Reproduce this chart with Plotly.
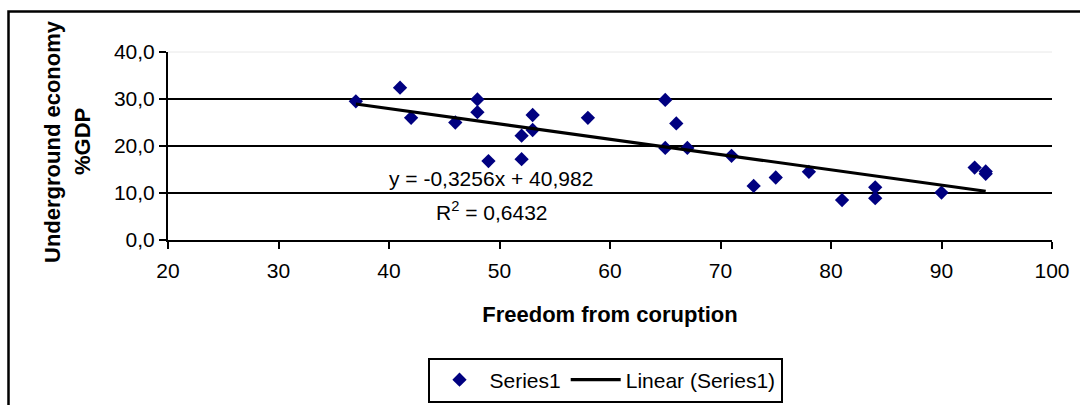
import plotly.graph_objects as go

# ---- data ----
freedom = [37, 41, 42, 46, 48, 48, 49, 52, 52, 53, 53, 58, 65, 65, 66, 67,
           71, 73, 75, 78, 81, 84, 84, 90, 93, 94, 94]
underground = [29.5, 32.4, 26.0, 25.0, 29.9, 27.2, 16.8, 22.2, 17.2, 26.6, 23.4,
               26.0, 29.8, 19.6, 24.8, 19.6, 17.9, 11.5, 13.3, 14.5, 8.5, 11.2,
               8.9, 10.1, 15.4, 14.6, 14.1]
slope = -0.3256
intercept = 40.982
r_squared = 0.6432
x_ticks = [20, 30, 40, 50, 60, 70, 80, 90, 100]
y_ticks = [0, 10, 20, 30, 40]
grid_vals = [10, 20, 30]

FONT = "Arial, Liberation Sans, sans-serif"

W, H = 1080, 405
# plot area in pixels
L, R, T, B = 168, 1052, 52, 240
pw, ph = R - L, B - T

def px_x(p):
    return (p - L) / pw

def px_y(p):
    return (B - p) / ph

x_line = [min(freedom), max(freedom)]
y_line = [slope * v + intercept for v in x_line]

fig = go.Figure()
fig.add_trace(go.Scatter(
    x=freedom, y=underground, mode="markers", name="Series1",
    marker=dict(symbol="diamond", size=11, color="#000080",
                line=dict(width=0)),
    yaxis="y"))
fig.add_trace(go.Scatter(
    x=x_line, y=y_line, mode="lines", name="Linear (Series1)",
    line=dict(color="black", width=3.2), yaxis="y"))
# invisible trace on overlay axis for gridlines
fig.add_trace(go.Scatter(x=[20], y=[0], mode="markers", showlegend=False,
                         marker=dict(opacity=0), yaxis="y2", hoverinfo="skip"))

fig.update_layout(
    width=W, height=H,
    margin=dict(l=L, r=W - R, t=T, b=H - B, pad=0, autoexpand=False),
    paper_bgcolor="white", plot_bgcolor="white",
    separators=",.",
    font=dict(family=FONT, size=21, color="black"),
    showlegend=True,
    legend=dict(orientation="h", x=px_x(605), y=px_y(380),
                xanchor="center", yanchor="middle",
                bordercolor="black", borderwidth=2, bgcolor="white",
                font=dict(family=FONT, size=21, color="black"),
                itemwidth=50, tracegroupgap=0),
    xaxis=dict(range=[20, 100], tickvals=x_ticks, ticktext=[str(v) for v in x_ticks],
               showgrid=False, zeroline=False, showline=True,
               linecolor="black", linewidth=2, ticks="outside", ticklen=7,
               tickwidth=2, tickcolor="black", ticklabelstandoff=4,
               tickfont=dict(family=FONT, size=21, color="black"),
               title=dict(text="<b>Freedom from coruption</b>",
                          font=dict(family=FONT, size=22, color="black"),
                          standoff=25)),
    yaxis=dict(range=[0, 40], tickvals=y_ticks, tickformat=".1f",
               showgrid=False, zeroline=False, showline=True,
               linecolor="black", linewidth=2, ticks="outside", ticklen=7,
               tickwidth=2, tickcolor="black",
               tickfont=dict(family=FONT, size=21, color="black")),
    yaxis2=dict(range=[0, 40], tickvals=grid_vals, overlaying="y",
                showgrid=True, gridcolor="black", gridwidth=2,
                showticklabels=False, zeroline=False, showline=False,
                ticks=""),
)

# faint top border of plot area
fig.add_shape(type="line", xref="paper", yref="paper", x0=0, x1=1, y0=1, y1=1,
              line=dict(color="#e8e8e8", width=1), layer="below")

# outer chart border (extends past bottom/right edges)
fig.add_shape(type="rect", xref="paper", yref="paper",
              x0=px_x(8.5), x1=px_x(1100), y0=px_y(430), y1=px_y(11.5),
              line=dict(color="black", width=2.5), fillcolor="rgba(0,0,0,0)",
              layer="above")

# y-axis title (two lines, rotated)
fig.add_annotation(text="<b>Underground economy</b>", xref="paper", yref="paper",
                   x=px_x(52), y=px_y(142), textangle=-90, showarrow=False,
                   xanchor="center", yanchor="middle",
                   font=dict(family=FONT, size=22, color="black"))
fig.add_annotation(text="<b>%GDP</b>", xref="paper", yref="paper",
                   x=px_x(82), y=px_y(142), textangle=-90, showarrow=False,
                   xanchor="center", yanchor="middle",
                   font=dict(family=FONT, size=22, color="black"))

# trendline equation labels
eq_text = "y = " + f"{slope:.4f}".replace(".", ",") + "x + " + f"{intercept:.3f}".replace(".", ",")
r2_text = "R<sup>2</sup> = " + f"{r_squared:.4f}".replace(".", ",")
fig.add_annotation(text=eq_text, x=49.2, y=13.0, xref="x", yref="y",
                   showarrow=False, xanchor="center", yanchor="middle",
                   font=dict(family=FONT, size=21, color="black"))
fig.add_annotation(text=r2_text, x=49.3, y=6.2, xref="x", yref="y",
                   showarrow=False, xanchor="center", yanchor="middle",
                   font=dict(family=FONT, size=21, color="black"))

fig.write_html("out.html",
               config={"displayModeBar": False},
               post_script="document.body.style.margin='0';"
                           "document.body.style.overflow='hidden';")
